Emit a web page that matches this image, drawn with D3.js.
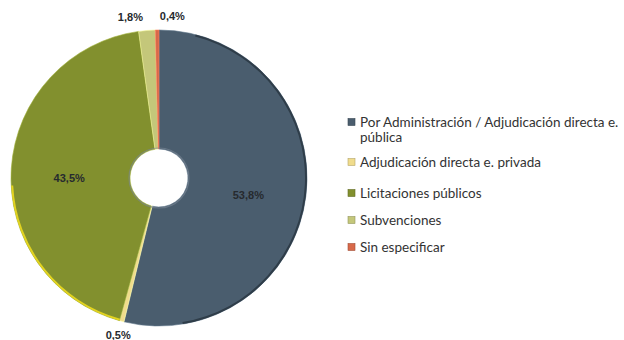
<!DOCTYPE html>
<html>
<head>
<meta charset="utf-8">
<script src="https://cdn.jsdelivr.net/npm/d3@7"></script>
<style>
  html, body { margin: 0; padding: 0; background: #ffffff; }
  svg { display: block; }
</style>
</head>
<body>
<svg id="chart" width="624" height="340"></svg>
<script>
// Distribución por modalidad de ejecución (%)
const categories = [
  "Por Administración / Adjudicación directa e. pública",
  "Adjudicación directa e. privada",
  "Licitaciones públicos",
  "Subvenciones",
  "Sin especificar"
];
const values = [53.8, 0.5, 43.5, 1.8, 0.4];
const colors = ["#4a5d6e", "#f0dc8c", "#82902e", "#c4c77a", "#d8694a"];
// Legend lines (first entry wraps onto two lines)
const legendLines = [
  ["Por Administración / Adjudicación directa e.", "pública"],
  ["Adjudicación directa e. privada"],
  ["Licitaciones públicos"],
  ["Subvenciones"],
  ["Sin especificar"]
];

const svg = d3.select("#chart");
const cx = 159, cy = 178, R = 148, r0 = 29;

const data = categories.map((c, i) => ({ name: c, value: values[i], color: colors[i] }));
const pie = d3.pie().value(d => d.value).sort(null).startAngle(0).endAngle(2 * Math.PI);
const arcs = pie(data);
const arc = d3.arc().innerRadius(r0).outerRadius(R);

const g = svg.append("g").attr("transform", `translate(${cx},${cy})`);

g.selectAll("path.slice")
  .data(arcs)
  .join("path")
  .attr("class", "slice")
  .attr("d", arc)
  .attr("fill", d => d.data.color)
  .attr("stroke", d => d3.color(d.data.color).brighter(0.6))
  .attr("stroke-width", 0.6);

// bevel-like rims on the outer edge
const rim = d3.arc().innerRadius(R - 2).outerRadius(R);
g.append("path")
  .attr("d", rim({ startAngle: arcs[2].startAngle, endAngle: arcs[2].startAngle + 1.25 }))
  .attr("fill", "#e2d320");
g.append("path")
  .attr("d", rim({ startAngle: 0.25, endAngle: arcs[0].endAngle - 0.4 }))
  .attr("fill", "#2f3d49");
// soft shade inside the hole edge
g.append("circle").attr("r", r0 + 1).attr("fill", "none")
  .attr("stroke", "#7c8796").attr("stroke-width", 1.2).attr("opacity", 0.6);

const fmt = v => d3.format(".1f")(v).replace(".", ",") + "%";

// labels: large slices inside, small slices outside
const inner = d3.arc().innerRadius(90).outerRadius(90);
const outer = d3.arc().innerRadius(R + 14).outerRadius(R + 14);
const labels = arcs.map(a => {
  const big = a.data.value > 10;
  const [x, y] = (big ? inner : outer).centroid(a);
  return { text: fmt(a.data.value), x, y: big ? y + 6 : y, big };
});
// push apart the crowded labels at the top
const topLabels = labels.filter(l => !l.big && l.y < 0).sort((a, b) => a.x - b.x);
for (let i = 1; i < topLabels.length; i++) {
  const gap = 42;
  if (topLabels[i].x - topLabels[i - 1].x < gap) {
    const mid = (topLabels[i].x + topLabels[i - 1].x) / 2;
    topLabels[i - 1].x = mid - gap / 2;
    topLabels[i].x = mid + gap / 2;
  }
}

g.selectAll("text.val")
  .data(labels)
  .join("text")
  .attr("class", "val")
  .attr("x", d => d.x)
  .attr("y", d => d.y + 4)
  .attr("text-anchor", "middle")
  .attr("font-family", "'Liberation Sans', Arial, sans-serif")
  .attr("font-weight", "bold")
  .attr("font-size", 11)
  .attr("fill", "#262a2e")
  .text(d => d.text);

// legend
const legendY = [122, 162, 193, 220, 247];
const lg = svg.append("g");
data.forEach((d, i) => {
  const y = legendY[i];
  lg.append("rect")
    .attr("x", 348).attr("y", y - 3.5)
    .attr("width", 7).attr("height", 7)
    .attr("fill", d.color)
    .attr("stroke", d3.color(d.color).darker(0.8)).attr("stroke-width", 0.6);
  legendLines[i].forEach((line, j) => {
    lg.append("text")
      .attr("x", 360)
      .attr("y", y + 4.5 + j * 15)
      .attr("font-family", "Lato, 'Open Sans', sans-serif")
      .attr("font-size", 13.5)
      .attr("fill", "#333333")
      .text(line);
  });
});
</script>
</body>
</html>
